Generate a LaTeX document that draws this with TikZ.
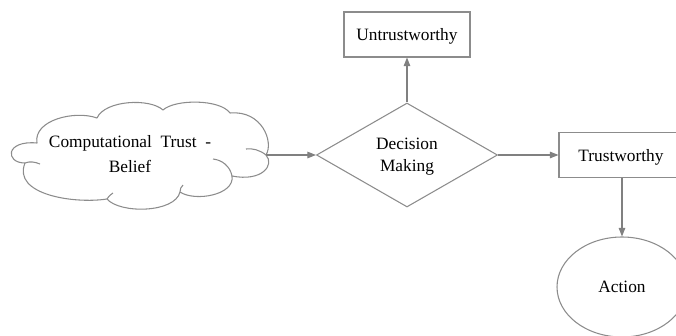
\documentclass[tikz,border=0pt]{standalone}
\usepackage{fontspec}
\setmainfont{Liberation Serif}
\usetikzlibrary{shapes.geometric,arrows.meta}
\definecolor{linegray}{RGB}{128,128,128}
\definecolor{shapegray}{RGB}{140,140,140}
\tikzset{
  every node/.style={font=\fontsize{13}{16.5}\selectfont, text=black},
  shapeline/.style={draw=shapegray, line width=0.8pt},
  boxnode/.style={shapeline, rectangle, inner sep=0pt, text depth=0pt, minimum width=94.5pt, minimum height=33.75pt},
  conn/.style={draw=linegray, line width=0.8pt, -{Triangle[length=6.5pt,width=5pt]}},
  label/.style={align=center, inner sep=0pt},
}
\begin{document}
\begin{tikzpicture}[x=0.75pt,y=-0.75pt]
\useasboundingbox (0,0) rectangle (676,336);
\clip (0,0) rectangle (676,336);
% cloud
\draw[shapeline, line join=round]
  (25,163) .. controls (5,163) and (5,140) .. (37,143)
  .. controls (33,120) and (75,110) .. (97,118)
  .. controls (105,100) and (150,98) .. (163,110)
  .. controls (175,99) and (220,99) .. (230,113)
  .. controls (262,110) and (274,142) .. (266,155)
  .. controls (275,165) and (262,182) .. (232,176)
  .. controls (235,195) and (195,202) .. (180,192)
  .. controls (175,213) and (120,214) .. (107,199)
  .. controls (75,204) and (12,195) .. (25,163) -- cycle;
\draw[shapeline] (25,163) .. controls (30,161) and (35,162) .. (40,164);
\draw[shapeline] (266,155) .. controls (260,150) and (252,148) .. (246,149);
\draw[shapeline] (232,176) .. controls (230,166) and (222,160) .. (213,159);
\draw[shapeline] (180,192) .. controls (180,189) and (181,187) .. (183,185);
\draw[shapeline] (107,199) .. controls (109,196) and (111,194) .. (113,193);
\coordinate (cloudE) at (266,155);
\node[label, font=\fontsize{13}{18.75}\selectfont] (cloudtext) at (130,154) {Computational\ \ Trust\ \ -\\Belief};
% diamond
\node[shapeline, diamond, inner sep=0pt, minimum width=135.75pt, minimum height=78pt] (dec) at (407,155) {};
\node[label] (dectext) at (407,157) {Decision\\Making};
\node[boxnode] (untr) at (407,34.5) {Untrustworthy};
\node[boxnode, minimum width=93pt] (tr) at (621,155) {Trustworthy};
\node[shapeline, ellipse, inner sep=0pt, text depth=0pt, minimum width=97.5pt, minimum height=75pt] (act) at (622,287) {Action};
\draw[conn] (cloudE) -- (dec.west);
\draw[conn] (dec.north) -- (untr.south);
\draw[conn] (dec.east) -- (tr.west);
\draw[conn] (tr.south -| act.north) -- (act.north);
\end{tikzpicture}
\end{document}
